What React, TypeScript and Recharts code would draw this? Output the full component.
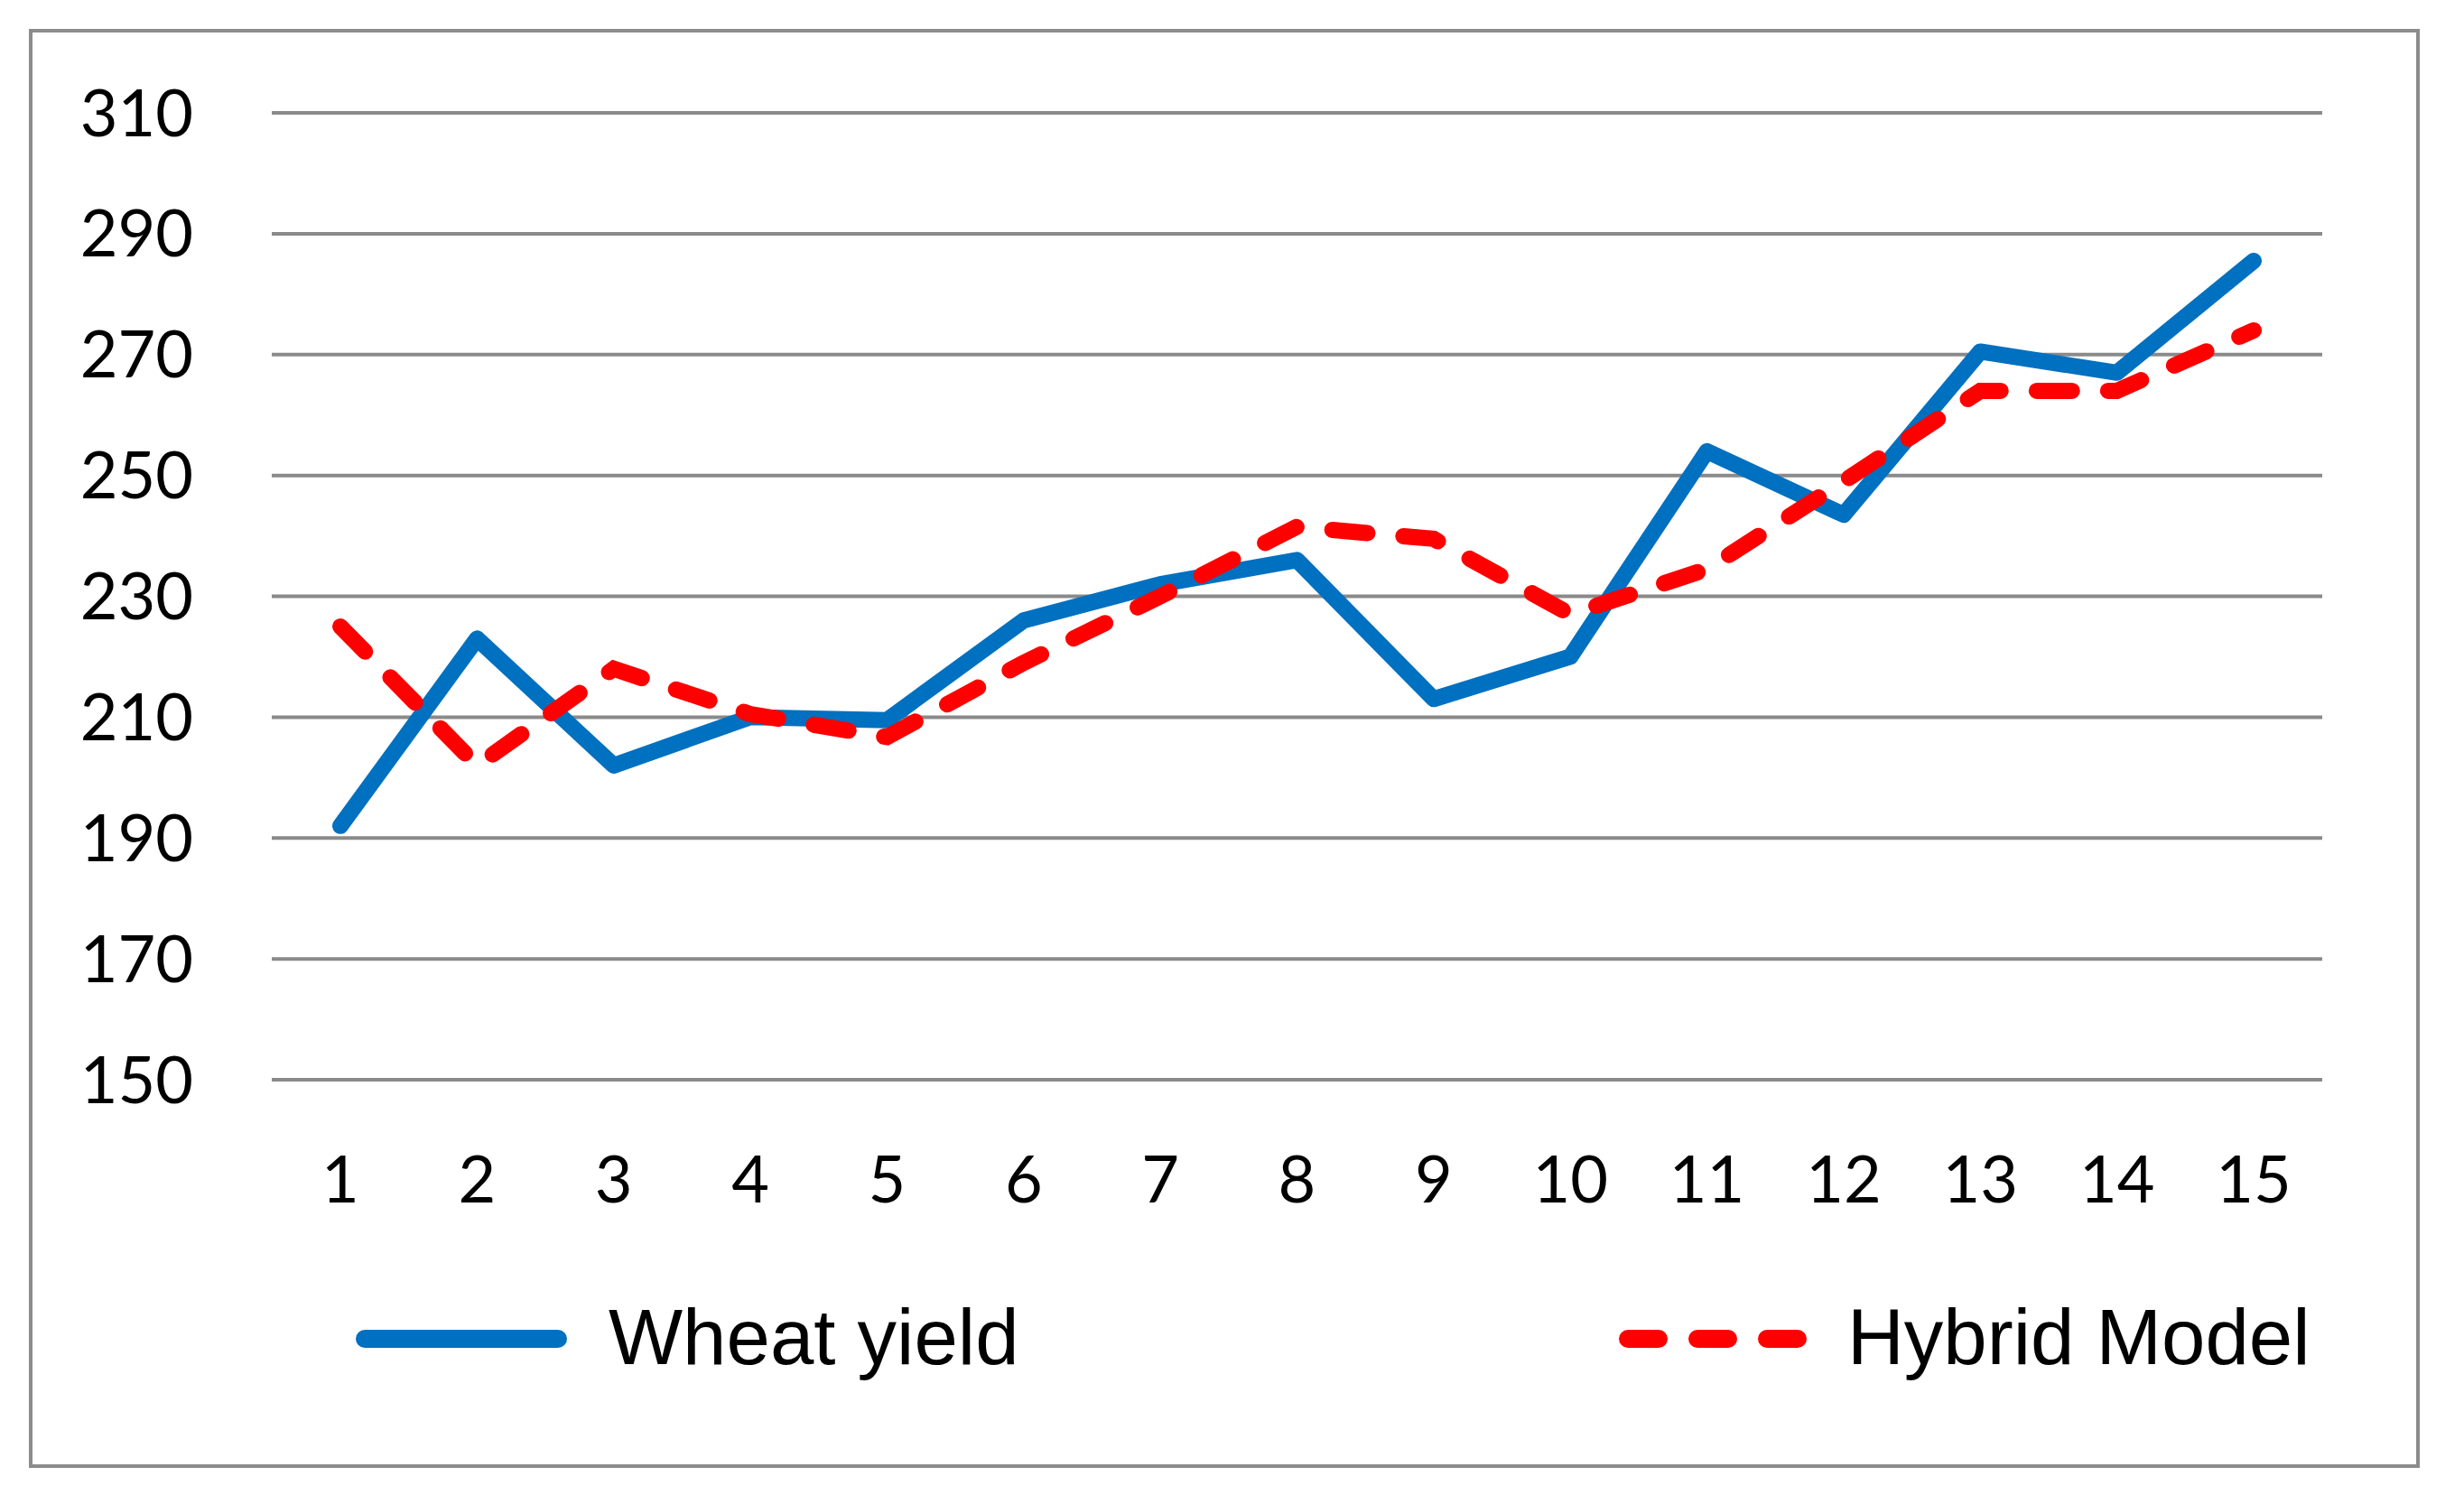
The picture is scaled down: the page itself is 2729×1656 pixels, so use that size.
import { LineChart, Line, XAxis, YAxis, CartesianGrid, Legend } from 'recharts'

const periods = ['1', '2', '3', '4', '5', '6', '7', '8', '9', '10', '11', '12', '13', '14', '15']
const wheatYield = [192, 223, 202, 210, 209.5, 226, 232, 236, 213, 220, 254, 243.5, 270.5, 267, 285.5]
const hybridModel = [225, 202, 218, 210.5, 206.7, 219, 230, 241.5, 239.5, 227, 234.5, 249, 264, 264, 274]
const yTicks = [150, 170, 190, 210, 230, 250, 270, 290, 310]

const BLUE = '#0070C0'
const RED = '#FF0000'

const chartData = periods.map((p, i) => ({
    period: p,
    wheat: wheatYield[i],
    hybrid: hybridModel[i],
}))

function LegendContent() {
    return (
        <div style={{ position: 'relative', width: 2729, height: 200, fontFamily: '"Liberation Sans", Arial, sans-serif' }}>
            <svg width={240} height={40} style={{ position: 'absolute', left: 392, top: 117 }}>
                <line x1={12} y1={20} x2={226} y2={20} stroke={BLUE} strokeWidth={20} strokeLinecap="round" />
            </svg>
            <div style={{ position: 'absolute', left: 674, top: 85, fontSize: 87, lineHeight: '100px', color: '#000' }}>
                Wheat yield
            </div>
            <svg width={230} height={40} style={{ position: 'absolute', left: 1786, top: 117 }}>
                <line x1={17} y1={20} x2={210} y2={20} stroke={RED} strokeWidth={20} strokeLinecap="round" strokeDasharray="34 43" />
            </svg>
            <div style={{ position: 'absolute', left: 2046, top: 85, fontSize: 87, lineHeight: '100px', color: '#000' }}>
                Hybrid Model
            </div>
        </div>
    )
}

export default function App() {
    return (
        <div style={{ position: 'absolute', left: 0, top: 0, width: 2729, height: 1656, background: '#fff' }}>
            <div
                style={{
                    position: 'absolute',
                    left: 32,
                    top: 32,
                    width: 2640,
                    height: 1586,
                    border: '4px solid #8c8c8c',
                }}
            />
            <div style={{ position: 'absolute', left: 0, top: 0 }}>
                <LineChart
                    width={2729}
                    height={1656}
                    data={chartData}
                    margin={{ top: 125, right: 157, left: 0, bottom: 110 }}
                >
                    <CartesianGrid horizontal vertical={false} stroke="#8a8a8a" strokeWidth={4} />
                    <XAxis
                        dataKey="period"
                        axisLine={false}
                        tickLine={false}
                        tickSize={0}
                        tickMargin={85}
                        height={150}
                        padding={{ left: 76, right: 76 }}
                        interval={0}
                        tick={{ fontSize: 72, fill: '#000', fontFamily: 'Lato, "Open Sans", sans-serif' }}
                    />
                    <YAxis
                        domain={[150, 310]}
                        ticks={yTicks}
                        axisLine={false}
                        tickLine={false}
                        tickSize={0}
                        tickMargin={87}
                        width={301}
                        tick={{ fontSize: 72, fill: '#000', fontFamily: 'Lato, "Open Sans", sans-serif' }}
                    />
                    <Legend
                        verticalAlign="bottom"
                        wrapperStyle={{ left: 0, width: 2729 }}
                        content={() => <LegendContent />}
                    />
                    <Line
                        type="linear"
                        dataKey="wheat"
                        name="Wheat yield"
                        stroke={BLUE}
                        strokeWidth={18}
                        strokeLinejoin="round"
                        strokeLinecap="round"
                        dot={false}
                        activeDot={false}
                        isAnimationActive={false}
                    />
                    <Line
                        type="linear"
                        dataKey="hybrid"
                        name="Hybrid Model"
                        stroke={RED}
                        strokeWidth={18}
                        strokeDasharray="39 40"
                        strokeLinecap="round"
                        dot={false}
                        activeDot={false}
                        isAnimationActive={false}
                    />
                </LineChart>
            </div>
        </div>
    )
}
